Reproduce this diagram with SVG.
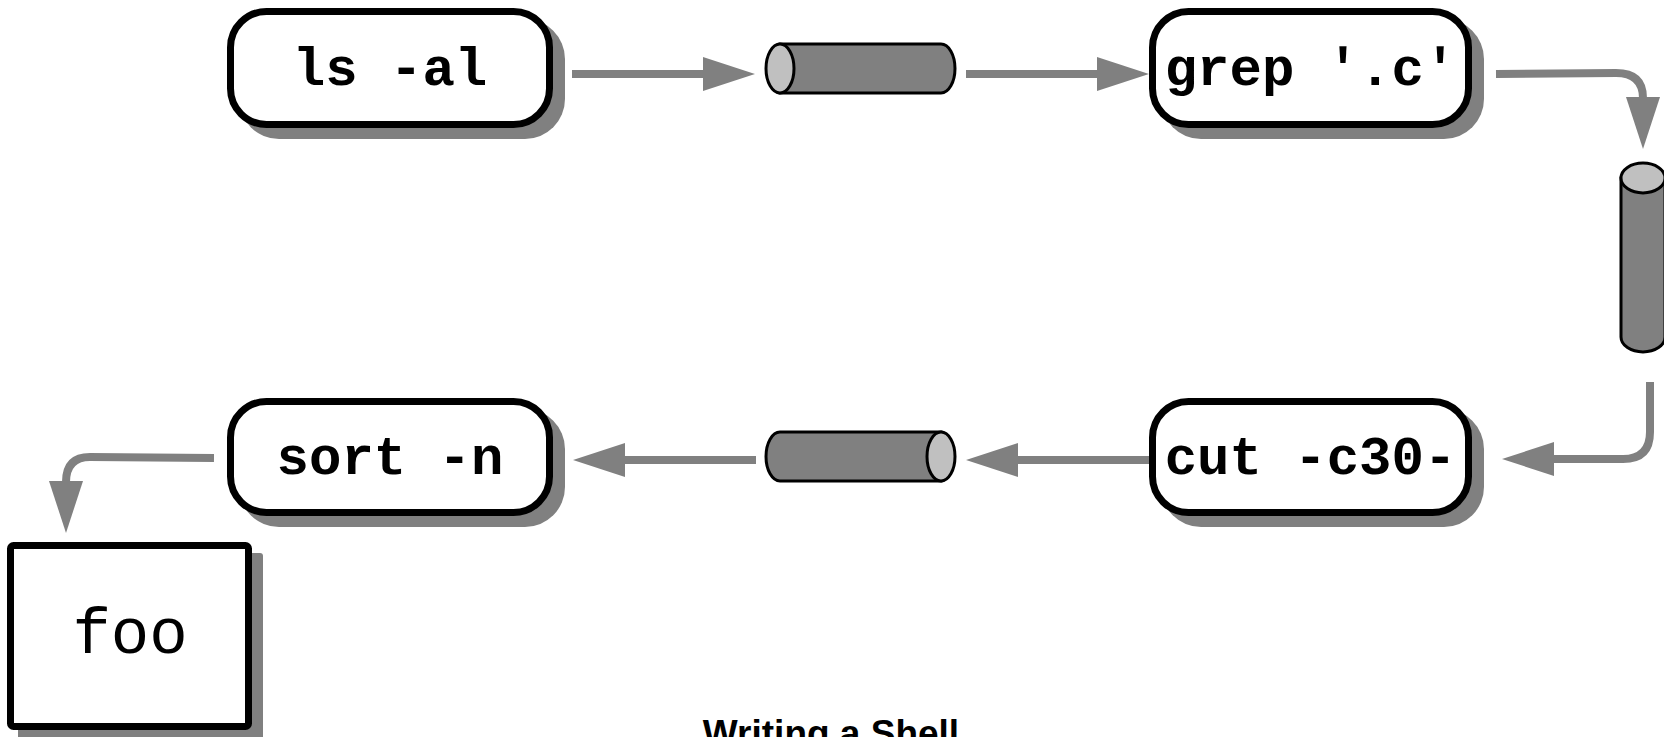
<svg xmlns="http://www.w3.org/2000/svg" width="1664" height="737" viewBox="0 0 1664 737">
<style>
.shadow{fill:#808080;stroke:none}
.box{fill:#fff;stroke:#000;stroke-width:7}
.cmd{font-family:"Liberation Mono","Courier New",monospace;font-weight:bold;font-size:54px;fill:#000;text-anchor:middle}
.file{font-family:"Liberation Mono","Courier New",monospace;font-size:64px;fill:#000;text-anchor:middle}
.body{fill:#808080;stroke:#000;stroke-width:3}
.cap{fill:#c0c0c0;stroke:#000;stroke-width:3}
.conn{fill:none;stroke:#808080;stroke-width:8}
.caption{font-family:"Liberation Sans",Arial,sans-serif;font-weight:bold;font-size:37px;fill:#000;text-anchor:middle}
</style>
<defs>
<marker id="ah" markerUnits="userSpaceOnUse" markerWidth="52" markerHeight="36" viewBox="0 0 52 36" refX="1" refY="18" orient="auto">
<path d="M0,1 L52,18 L0,35 Z" fill="#808080"/>
</marker>
</defs>
<rect width="1664" height="737" fill="#fff"/>

<g id="connectors">
<path class="conn" marker-end="url(#ah)" d="M572,74 H704"/>
<path class="conn" marker-end="url(#ah)" d="M966,74 H1098"/>
<path class="conn" marker-end="url(#ah)" d="M1496,74 L1616,73 Q1643,73 1643,98"/>
<path class="conn" marker-end="url(#ah)" d="M1650,382 L1650,432 Q1650,459 1623,459 L1553,459"/>
<path class="conn" marker-end="url(#ah)" d="M1150,460 H1017"/>
<path class="conn" marker-end="url(#ah)" d="M756,460 H624"/>
<path class="conn" marker-end="url(#ah)" d="M214,458 L90,457 Q66,457 66,482"/>
</g>

<g id="node-ls">
<rect class="shadow" x="239" y="19" width="326" height="120" rx="40"/>
<rect class="box" x="230.5" y="11.5" width="319" height="113" rx="36"/>
<text class="cmd" x="390" y="85">ls -al</text>
</g>

<g id="pipe-1">
<path class="body" d="M780,44 H941 A14,24.5 0 0 1 941,93 H780 Z"/>
<ellipse class="cap" cx="780" cy="68.5" rx="14" ry="24.5"/>
</g>

<g id="node-grep">
<rect class="shadow" x="1161" y="19" width="323" height="120" rx="40"/>
<rect class="box" x="1152.5" y="11.5" width="316" height="113" rx="36"/>
<text class="cmd" x="1310.5" y="85">grep '.c'</text>
</g>

<g id="pipe-2">
<path class="body" d="M1621,178 V337 A22,15 0 0 0 1665,337 V178 Z"/>
<ellipse class="cap" cx="1643" cy="178" rx="22" ry="15"/>
</g>

<g id="node-cut">
<rect class="shadow" x="1161" y="409" width="323" height="118" rx="40"/>
<rect class="box" x="1152.5" y="401.5" width="316" height="111" rx="36"/>
<text class="cmd" x="1310.5" y="474">cut -c30-</text>
</g>

<g id="pipe-3">
<path class="body" d="M941,432 H780 A14,24.5 0 0 0 780,481 H941 Z"/>
<ellipse class="cap" cx="941" cy="456.5" rx="14" ry="24.5"/>
</g>

<g id="node-sort">
<rect class="shadow" x="239" y="409" width="326" height="118" rx="40"/>
<rect class="box" x="230.5" y="401.5" width="319" height="111" rx="36"/>
<text class="cmd" x="390" y="474">sort -n</text>
</g>

<g id="node-foo">
<rect class="shadow" x="18" y="553" width="245" height="188" rx="3"/>
<rect class="box" x="10.5" y="545.5" width="238" height="181" rx="3"/>
<text class="file" x="130" y="653">foo</text>
</g>

<text class="caption" x="831" y="746">Writing a Shell</text>
</svg>
